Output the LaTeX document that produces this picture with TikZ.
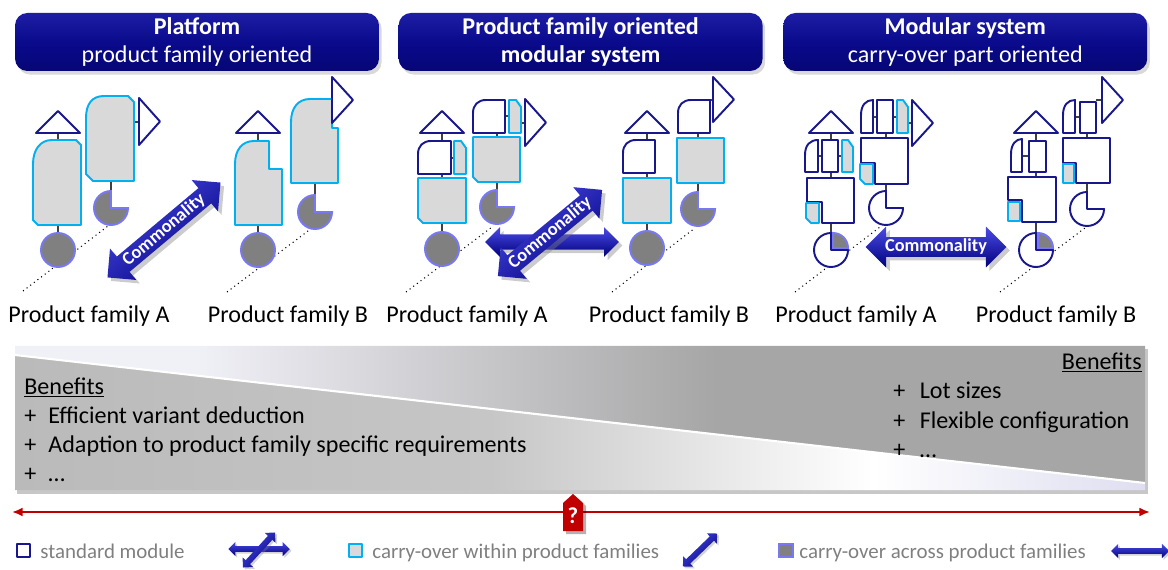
\documentclass[tikz,border=0pt]{standalone}
\usepackage{fontspec}
\setmainfont{Carlito}
\usetikzlibrary{positioning}
\usetikzlibrary{shapes.arrows}
\usetikzlibrary{shadows}
\usetikzlibrary{arrows.meta}

\definecolor{navyline}{RGB}{24,24,140}
\definecolor{cyanline}{RGB}{0,176,240}
\definecolor{lightfill}{RGB}{217,217,217}
\definecolor{darkfill}{RGB}{128,128,128}
\definecolor{lavline}{RGB}{120,120,245}
\definecolor{headtop}{RGB}{30,30,165}
\definecolor{headmid}{RGB}{10,10,140}
\definecolor{headbot}{RGB}{6,6,118}
\definecolor{arrowtop}{RGB}{75,75,230}
\definecolor{arrowbot}{RGB}{0,0,125}
\definecolor{axisred}{RGB}{192,0,0}
\definecolor{legendgray}{RGB}{127,127,127}
\definecolor{upL}{RGB}{240,240,247}
\definecolor{upR}{RGB}{166,166,166}
\definecolor{lowL}{RGB}{186,186,186}
\definecolor{lowM}{RGB}{198,198,198}
\definecolor{lowW}{RGB}{255,255,255}
\definecolor{lowR}{RGB}{222,222,240}

\pgfdeclarehorizontalshading{upband}{100bp}{color(0bp)=(upL); color(25bp)=(upL); color(33bp)=(upL); color(56bp)=(upR); color(100bp)=(upR)}
\pgfdeclarehorizontalshading{lowband}{100bp}{color(0bp)=(lowL); color(25bp)=(lowL); color(46bp)=(lowM); color(63bp)=(lowW); color(75bp)=(lowR); color(100bp)=(lowR)}

% module outlines (pixel coordinates, y downwards)
\newcommand{\triup}[2]{(#1-22,#2) -- (#1+22,#2) -- (#1,#2-22) -- cycle}
\newcommand{\triright}[3]{(#1,#2) -- (#1,#3) -- ({#1+21},{(#2+#3)/2}) -- cycle}
\newcommand{\piepath}[2]{(#1,#2-17) arc[start angle=270,end angle=0,radius=17] -- (#1,#2) -- cycle}
\newcommand{\quarterpc}[2]{(#1+2,#2-17) arc[start angle=270,end angle=360,radius=15] -- (#1+2,#2-2) -- cycle}
\newcommand{\roundtl}[4]{(#1,#4) -- (#1,#2+13) .. controls (#1,#2+5) and (#1+5,#2) .. (#1+13,#2) -- (#3,#2) -- (#3,#4) -- cycle}
\newcommand{\cuttr}[4]{(#1,#2) -- (#3-5,#2) -- (#3,#2+7) -- (#3,#4) -- (#1,#4) -- cycle}
\newcommand{\cutbl}[4]{(#1,#2) -- (#3,#2) -- (#3,#4) -- (#1+5,#4) -- (#1,#4-5) -- cycle}
\newcommand{\qpiece}[4]{(#1,#4) -- (#1,#2+15) .. controls (#1,#2+5) and (#1+5,#2) .. (#3,#2) -- (#3,#4) -- cycle}
\newcommand{\lblock}[6]{(#1,#2) -- (#3,#2) -- (#3,#4) -- (#5,#4) -- (#5,#6) -- (#1,#6) -- cycle}

\begin{document}
\begin{tikzpicture}[x=0.02cm, y=-0.02cm,
	std/.style={draw=navyline, fill=white, line width=1.1pt, line join=round},
	cop/.style={draw=cyanline, fill=lightfill, line width=1.1pt, line join=round},
	coa/.style={draw=lavline, fill=darkfill, line width=1.1pt},
	link/.style={draw=black!75, line width=0.8pt},
	dots/.style={dotted, line width=0.6pt},
	headbox/.style={rounded corners=7pt, top color=headtop, bottom color=headbot, middle color=headmid, text=white, align=center, minimum width=7.28cm, minimum height=1.16cm, inner sep=0pt, drop shadow={opacity=0.3, shadow xshift=1.5pt, shadow yshift=-2pt}, font=\fontsize{13.7}{16.2}\selectfont},
	famtext/.style={inner sep=0pt, font=\fontsize{13.7}{16.2}\selectfont},
	bentext/.style={inner sep=0pt, font=\fontsize{13.7}{16.2}\selectfont},
	legtext/.style={inner sep=0pt, text=legendgray, font=\fontsize{11.9}{14}\selectfont},
	common/.style={double arrow, double arrow head extend=6pt, inner xsep=0pt, inner ysep=1pt, top color=arrowtop, bottom color=arrowbot, text=white, font=\fontsize{10.4}{12}\selectfont\bfseries, drop shadow={opacity=0.4, shadow xshift=2pt, shadow yshift=-2pt}},
	legarrow/.style={double arrow, double arrow head extend=2.4pt, inner xsep=0pt, inner ysep=1.5pt, top color=arrowtop, bottom color=arrowbot, drop shadow={opacity=0.35, shadow xshift=1pt, shadow yshift=-1pt}}]

	\useasboundingbox (0,0) rectangle (1168,570);

	% headers
	\node[headbox] (plat) at (197,42) {\textbf{Platform}\\product family oriented};
	\node[headbox, right=0.38cm of plat] (pfms) {\textbf{Product family oriented}\\\textbf{modular system}};
	\node[headbox, right=0.40cm of pfms] (mods) {\textbf{Modular system}\\carry-over part oriented};

	\foreach \x/\f [count=\i] in {89/A,288/B,467/A,669/B,856/A,1056/B}
		\node[famtext, anchor=base] (fam\i) at (\x,323) {Product family \f};

	% platform, family A
	\draw[dots] (23,291) -- (108,226);
	\draw[link] (58,133) -- (58,250);
	\draw[link] (111,181) -- (111,208);
	\draw[link] (134,122) -- (139,122);
	\draw[std] \triup{58}{133};
	\draw[cop] (33,220) -- (33,164) .. controls (33,150) and (40,140) .. (52,140) -- (76,140) -- (81,145) -- (81,225) -- (38,225) -- cycle;
	\draw[coa] (58,250) circle[radius=17];
	\draw[cop] (86,174) -- (86,118) .. controls (86,104) and (92,96) .. (104,96) -- (128,96) -- (134,102) -- (134,181) -- (93,181) -- cycle;
	\draw[std] \triright{139}{98}{145};
	\draw[coa] \piepath{111}{208};
	% platform, family B
	\draw[dots] (227,292) -- (312,228);
	\draw[link] (258,133) -- (258,250);
	\draw[link] (315,183) -- (315,212);
	\draw[std] \triup{258}{133};
	\draw[cop] (235,225) -- (235,164) .. controls (235,150) and (242,141) .. (254,141) -- (269,141) -- (269,169) -- (282,169) -- (282,225) -- cycle;
	\draw[coa] (258,250) circle[radius=17];
	\draw[cop] (291,183) -- (291,122) .. controls (291,108) and (298,99) .. (310,99) -- (332,99) -- (332,128) -- (338,128) -- (338,183) -- cycle;
	\draw[std] \triright{332}{77}{123};
	\draw[coa] \piepath{315}{212};
	\node[common, rotate=40, shading angle=40, minimum height=84pt] (comm1) at (164,230) {\makebox[0pt]{Commonality}};

	% product family oriented modular system, family A
	\draw[dots] (406,292) -- (492,227);
	\draw[link] (442,133) -- (442,249);
	\draw[link] (451,158) -- (454,158);
	\draw[link] (497,133) -- (497,207);
	\draw[link] (505,116) -- (509,116);
	\draw[link] (521,123) -- (525,123);
	\draw[std] \triup{442}{133};
	\draw[std] \roundtl{418}{141}{451}{174};
	\draw[cop] \cuttr{454}{141}{466}{174};
	\draw[cop] \cutbl{418}{178}{466}{223};
	\draw[coa] (442,249) circle[radius=17];
	\draw[std] \roundtl{473}{100}{505}{133};
	\draw[cop] \cuttr{509}{100}{521}{133};
	\draw[std] \triright{525}{99}{146};
	\draw[cop] \cutbl{473}{137}{520}{182};
	\draw[coa] \piepath{497}{207};
	% family B
	\draw[dots] (612,292) -- (695,228);
	\draw[link] (647,133) -- (647,248);
	\draw[link] (698,133) -- (698,209);
	\draw[link] (710,100) -- (713,100);
	\draw[std] \triup{647}{133};
	\draw[std] \roundtl{623}{140}{655}{173};
	\draw[cop] (623,178) rectangle (671,223);
	\draw[coa] (647,248) circle[radius=17];
	\draw[std] \roundtl{678}{100}{710}{133};
	\draw[std] \triright{713}{77}{122};
	\draw[cop] (677,138) rectangle (724,183);
	\draw[coa] \piepath{698}{209};
	\node[common, minimum height=76pt, inner ysep=4.2pt, double arrow head extend=4pt] (comm2h) at (552,242) {};
	\node[common, rotate=39.6, shading angle=39.6, minimum height=77pt] (comm2d) at (550,233) {\makebox[0pt]{Commonality}};

	% modular system, family A
	\draw[dots] (795,292) -- (880,227);
	\draw[link] (831,133) -- (831,250);
	\draw[link] (818,156) -- (842,156);
	\draw[link] (886,133) -- (886,208);
	\draw[link] (873,117) -- (897,117);
	\draw[link] (908,123) -- (912,123);
	\draw[std] \triup{831}{133};
	\draw[std] \qpiece{805}{140}{818}{172};
	\draw[std] (822,140) rectangle (838,172);
	\draw[cop] \cuttr{842}{140}{853}{172};
	\draw[std] \lblock{807}{178}{854}{223}{822}{202};
	\draw[cop] \cutbl{806}{203}{819}{223};
	\draw[std] \piepath{831}{250};
	\draw[coa] \quarterpc{831}{250};
	\draw[std] \qpiece{861}{100}{873}{133};
	\draw[std] (877,100) rectangle (893,133);
	\draw[cop] \cuttr{897}{100}{908}{133};
	\draw[std] \triright{912}{100}{146};
	\draw[std] \lblock{861}{138}{908}{184}{875}{163};
	\draw[cop] \cutbl{860}{164}{873}{184};
	\draw[std] \piepath{886}{208};
	% family B
	\draw[dots] (1000,292) -- (1085,228);
	\draw[link] (1036,133) -- (1036,250);
	\draw[link] (1022,156) -- (1029,156);
	\draw[link] (1087,133) -- (1087,209);
	\draw[link] (1075,117) -- (1080,117);
	\draw[link] (1096,100) -- (1102,100);
	\draw[std] \triup{1036}{133};
	\draw[std] \qpiece{1011}{139}{1022}{172};
	\draw[std] (1029,141) rectangle (1046,172);
	\draw[std] \lblock{1008}{177}{1056}{222}{1022}{200};
	\draw[cop] (1008,202) rectangle (1020,221);
	\draw[std] \piepath{1036}{250};
	\draw[coa] \quarterpc{1036}{250};
	\draw[std] \qpiece{1063}{100}{1075}{133};
	\draw[std] (1080,102) rectangle (1096,133);
	\draw[std] \triright{1102}{77}{123};
	\draw[std] \lblock{1063}{138}{1110}{183}{1076}{163};
	\draw[cop] (1063,164) rectangle (1074,183);
	\draw[std] \piepath{1087}{209};
	\node[common, minimum height=80pt] (comm3) at (936,247) {\makebox[0pt]{Commonality}};

	% benefits band
	\fill[black, opacity=0.22] (17,349) rectangle (1148,494);
	\shade[shading=upband] (15,346) -- (1145,346) -- (1145,483) -- (15,355) -- cycle;
	\shade[shading=lowband] (15,355) -- (1145,483) -- (1145,490) -- (15,490) -- cycle;
	\draw[white, line width=1.2pt] (15,355) -- (1145,483);

	\node[bentext, anchor=base west] (benA) at (24,394) {\underline{Benefits}};
	\node[bentext, anchor=base west] (benA1) at (24,423) {\makebox[1em][l]{+}Efficient variant deduction};
	\node[bentext, anchor=base west] (benA2) at (24,452) {\makebox[1em][l]{+}Adaption to product family specific requirements};
	\node[bentext, anchor=base west] (benA3) at (24,481) {\makebox[1em][l]{+}…};
	\node[bentext, anchor=base east] (benB) at (1142,369) {\underline{Benefits}};
	\node[bentext, anchor=base west] (benB1) at (893,398) {\makebox[1.1em][l]{+}Lot sizes};
	\node[bentext, anchor=base west] (benB2) at (893,428) {\makebox[1.1em][l]{+}Flexible configuration};
	\node[bentext, anchor=base west] (benB3) at (893,457) {\makebox[1.1em][l]{+}…};

	% red axis
	\coordinate (axisL) at (12,512);
	\coordinate (axisR) at (1150,512);
	\draw[axisred, line width=1.1pt, {Latex[length=6pt,width=5pt]}-{Latex[length=6pt,width=5pt]}] (axisL) -- (axisR);
	\fill[black, opacity=0.3] (566,534) -- (566,506) -- (576,497) -- (586,506) -- (586,534) -- cycle;
	\fill[axisred] (563,531) -- (563,503) -- (573,494) -- (583,503) -- (583,531) -- cycle;
	\node[text=white, inner sep=0pt, font=\fontsize{13}{14}\selectfont\bfseries] (qmark) at (573,516) {?};

	% legend
	\draw[std, line width=0.9pt] (17,544) rectangle (30,557);
	\node[legtext, anchor=base west] (leg1) at (40,558) {standard module};
	\node[legarrow, minimum height=35pt] (legh1) at (259,549) {};
	\node[legarrow, rotate=47.6, shading angle=47.6, minimum height=27pt] (legd1) at (259,550) {};
	\draw[cop, line width=0.9pt] (349,544) rectangle (362,557);
	\node[legtext, anchor=base west] (leg2) at (372,558) {carry-over within product families};
	\node[legarrow, rotate=44, shading angle=44, minimum height=27pt] (legd2) at (700,550) {};
	\draw[coa, line width=0.9pt] (779,544) rectangle (793,557);
	\node[legtext, anchor=base west] (leg3) at (799,558) {carry-over across product families};
	\node[legarrow, minimum height=33pt] (legh3) at (1140,551) {};

\end{tikzpicture}
\end{document}
